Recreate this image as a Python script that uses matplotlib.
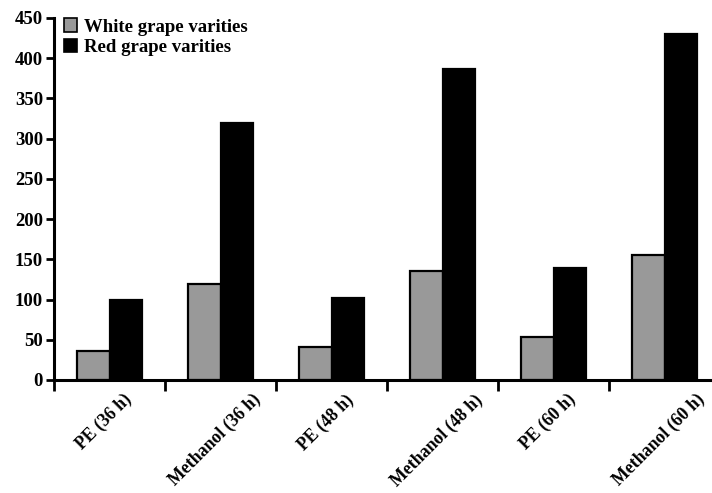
import numpy as np
import matplotlib.pyplot as plt
import matplotlib.transforms as mtransforms

plt.rcParams['font.family'] = ['Liberation Serif', 'DejaVu Serif']
plt.rcParams['font.weight'] = 'bold'

categories = ['PE (36 h)', 'Methanol (36 h)', 'PE (48 h)',
              'Methanol (48 h)', 'PE (60 h)', 'Methanol (60 h)']
white_vals = [36, 119, 41, 136, 53, 155]
red_vals = [100, 320, 102, 386, 139, 430]

fig = plt.figure(figsize=(7.12, 4.93), dpi=100)
ax = fig.add_axes([54 / 712, 113 / 493, 666 / 712, 362 / 493])

x = np.arange(len(categories)) + 0.5
w = 0.29
ax.bar(x - w / 2, white_vals, w, color='#999999', edgecolor='black', linewidth=1.6,
       label='White grape varities')
ax.bar(x + w / 2, red_vals, w, color='black', edgecolor='black', linewidth=1.6,
       label='Red grape varities')

ax.set_xlim(0, 6)
ax.set_ylim(0, 450)
ax.set_yticks(np.arange(0, 451, 50))
ax.tick_params(axis='y', labelsize=13.5, width=2, length=6, direction='out', pad=2)

# tick marks at group boundaries, labels at group centres
ax.set_xticks(np.arange(0, 7), minor=True)
ax.tick_params(axis='x', which='minor', width=2, length=8, direction='out')
ax.set_xticks(x)
ax.set_xticklabels(categories, rotation=45, ha='center', fontsize=12.8)
ax.tick_params(axis='x', which='major', length=0, pad=8)
shift = mtransforms.ScaledTranslation(-6 / 100, 0, fig.dpi_scale_trans)
for lbl in ax.get_xticklabels():
    lbl.set_transform(lbl.get_transform() + shift)

for s in ['top', 'right']:
    ax.spines[s].set_visible(False)
for s in ['left', 'bottom']:
    ax.spines[s].set_linewidth(2.2)

leg = ax.legend(loc='upper left', bbox_to_anchor=(-0.005, 1.035), frameon=False, fontsize=13.5,
                handlelength=0.7, handleheight=0.7, handletextpad=0.4, labelspacing=0.2,
                borderaxespad=0.3)
for h in leg.legend_handles:
    h.set_linewidth(1.2)

fig.savefig('out.png', dpi=100)
